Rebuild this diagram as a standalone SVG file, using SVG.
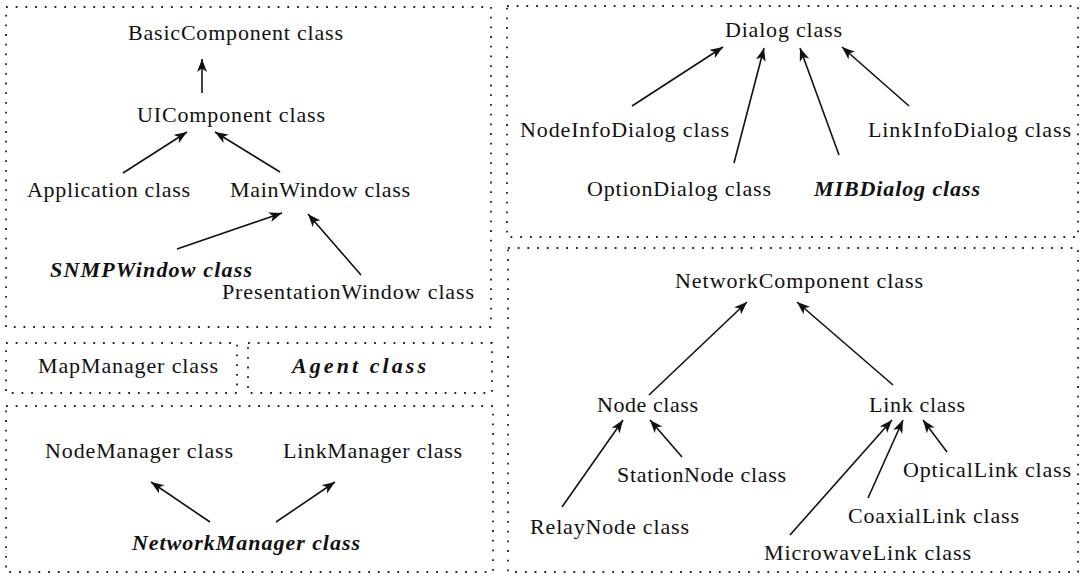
<svg xmlns="http://www.w3.org/2000/svg" width="1081" height="576" viewBox="0 0 1081 576">
<style>
.box{fill:none;stroke:#222;stroke-width:1.8;stroke-dasharray:1.8 7.9}
.t{font-family:"Liberation Serif","Times New Roman",serif;font-size:22px;fill:#111}
.bi{font-style:italic;font-weight:bold}
.c{fill:none;stroke:#111;stroke-width:1.6}
</style>
<defs>
<marker id="ah" markerUnits="userSpaceOnUse" markerWidth="15" markerHeight="12" refX="13" refY="5" orient="auto">
<path d="M0,0 L13,5 L0,10 L3.5,5 z" fill="#111"/>
</marker>
</defs>
<rect class="box" x="6" y="7" width="485" height="320"/>
<rect class="box" x="6" y="343" width="231" height="50"/>
<rect class="box" x="248" y="343" width="244" height="50"/>
<rect class="box" x="6" y="406" width="487" height="166"/>
<rect class="box" x="507" y="6" width="571" height="231"/>
<rect class="box" x="508" y="248" width="570" height="324"/>
<g id="connectors">
<line class="c" x1="202" y1="93" x2="202" y2="59" marker-end="url(#ah)"/>
<line class="c" x1="123" y1="173" x2="187" y2="132" marker-end="url(#ah)"/>
<line class="c" x1="280" y1="172" x2="215" y2="132" marker-end="url(#ah)"/>
<line class="c" x1="177" y1="249" x2="282" y2="213" marker-end="url(#ah)"/>
<line class="c" x1="361" y1="275" x2="308" y2="214" marker-end="url(#ah)"/>
<line class="c" x1="210" y1="522" x2="151" y2="482" marker-end="url(#ah)"/>
<line class="c" x1="276" y1="522" x2="335" y2="482" marker-end="url(#ah)"/>
<line class="c" x1="632" y1="106" x2="723" y2="47" marker-end="url(#ah)"/>
<line class="c" x1="734" y1="163" x2="764" y2="48" marker-end="url(#ah)"/>
<line class="c" x1="839" y1="155" x2="800" y2="48" marker-end="url(#ah)"/>
<line class="c" x1="909" y1="106" x2="842" y2="47" marker-end="url(#ah)"/>
<line class="c" x1="649" y1="395" x2="747" y2="302" marker-end="url(#ah)"/>
<line class="c" x1="893" y1="385" x2="797" y2="302" marker-end="url(#ah)"/>
<line class="c" x1="562" y1="507" x2="623" y2="420" marker-end="url(#ah)"/>
<line class="c" x1="682" y1="457" x2="650" y2="420" marker-end="url(#ah)"/>
<line class="c" x1="790" y1="535" x2="892" y2="420" marker-end="url(#ah)"/>
<line class="c" x1="868" y1="498" x2="903" y2="420" marker-end="url(#ah)"/>
<line class="c" x1="947" y1="452" x2="923" y2="420" marker-end="url(#ah)"/>
</g>
<g id="BasicComponent"><text class="t" x="128" y="40" textLength="215" lengthAdjust="spacing">BasicComponent class</text></g>
<g id="UIComponent"><text class="t" x="137" y="122" textLength="188" lengthAdjust="spacing">UIComponent class</text></g>
<g id="Application"><text class="t" x="27" y="197" textLength="163" lengthAdjust="spacing">Application class</text></g>
<g id="MainWindow"><text class="t" x="230" y="197" textLength="180" lengthAdjust="spacing">MainWindow class</text></g>
<g id="SNMPWindow"><text class="t bi" x="50" y="277" textLength="202" lengthAdjust="spacing">SNMPWindow class</text></g>
<g id="PresentationWindow"><text class="t" x="222" y="299" textLength="252" lengthAdjust="spacing">PresentationWindow class</text></g>
<g id="MapManager"><text class="t" x="38" y="373" textLength="180" lengthAdjust="spacing">MapManager class</text></g>
<g id="Agent"><text class="t bi" x="292" y="373" textLength="134" lengthAdjust="spacing">Agent class</text></g>
<g id="NodeManager"><text class="t" x="45" y="458" textLength="188" lengthAdjust="spacing">NodeManager class</text></g>
<g id="LinkManager"><text class="t" x="283" y="458" textLength="179" lengthAdjust="spacing">LinkManager class</text></g>
<g id="NetworkManager"><text class="t bi" x="132" y="550" textLength="228" lengthAdjust="spacing">NetworkManager class</text></g>
<g id="Dialog"><text class="t" x="725" y="37" textLength="117" lengthAdjust="spacing">Dialog class</text></g>
<g id="NodeInfoDialog"><text class="t" x="520" y="137" textLength="209" lengthAdjust="spacing">NodeInfoDialog class</text></g>
<g id="LinkInfoDialog"><text class="t" x="868" y="137" textLength="203" lengthAdjust="spacing">LinkInfoDialog class</text></g>
<g id="OptionDialog"><text class="t" x="587" y="196" textLength="184" lengthAdjust="spacing">OptionDialog class</text></g>
<g id="MIBDialog"><text class="t bi" x="814" y="196" textLength="166" lengthAdjust="spacing">MIBDialog class</text></g>
<g id="NetworkComponent"><text class="t" x="675" y="288" textLength="248" lengthAdjust="spacing">NetworkComponent class</text></g>
<g id="Node"><text class="t" x="597" y="412" textLength="101" lengthAdjust="spacing">Node class</text></g>
<g id="Link"><text class="t" x="869" y="412" textLength="96" lengthAdjust="spacing">Link class</text></g>
<g id="StationNode"><text class="t" x="617" y="482" textLength="169" lengthAdjust="spacing">StationNode class</text></g>
<g id="OpticalLink"><text class="t" x="903" y="477" textLength="168" lengthAdjust="spacing">OpticalLink class</text></g>
<g id="CoaxialLink"><text class="t" x="848" y="523" textLength="171" lengthAdjust="spacing">CoaxialLink class</text></g>
<g id="RelayNode"><text class="t" x="530" y="534" textLength="159" lengthAdjust="spacing">RelayNode class</text></g>
<g id="MicrowaveLink"><text class="t" x="764" y="560" textLength="207" lengthAdjust="spacing">MicrowaveLink class</text></g>
</svg>
